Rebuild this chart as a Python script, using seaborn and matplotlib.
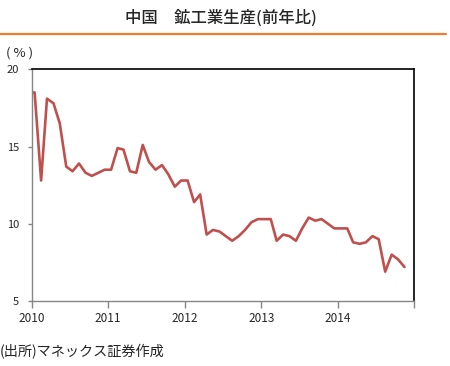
import numpy as np
import pandas as pd
import matplotlib
matplotlib.use("Agg")
import matplotlib.pyplot as plt
import matplotlib.dates as mdates
from matplotlib.lines import Line2D
import seaborn as sns

# monthly YoY (%), Dec 2009 .. Nov 2014
start_month = "2009-12-01"
ip_yoy = [18.5,
          18.5, 12.8, 18.1, 17.8, 16.5, 13.7, 13.4, 13.9, 13.3, 13.1, 13.3, 13.5,
          13.5, 14.9, 14.8, 13.4, 13.3, 15.1, 14.0, 13.5, 13.8, 13.2, 12.4, 12.8,
          12.8, 11.4, 11.9, 9.3, 9.6, 9.5, 9.2, 8.9, 9.2, 9.6, 10.1, 10.3,
          10.3, 10.3, 8.9, 9.3, 9.2, 8.9, 9.7, 10.4, 10.2, 10.3, 10.0, 9.7,
          9.7, 9.7, 8.8, 8.7, 8.8, 9.2, 9.0, 6.9, 8.0, 7.7, 7.2]
years = [2010, 2011, 2012, 2013, 2014, 2015]
year_labels = ["2010", "2011", "2012", "2013", "2014", ""]
y_ticks = [5, 10, 15, 20]

df = pd.DataFrame({
    "date": pd.date_range(start_month, periods=len(ip_yoy), freq="MS") + pd.Timedelta(days=14),
    "yoy": ip_yoy,
})

sns.set_style("white")
plt.rcParams['font.family'] = ['Noto Sans CJK JP', 'DejaVu Sans']

fig = plt.figure(figsize=(4.5, 3.66), dpi=100)
ax = fig.add_axes([0.0704, 0.1776, 0.8503, 0.6331])

sns.lineplot(data=df, x="date", y="yoy", ax=ax, color="#C0504D", linewidth=1.9)

ax.set_xlim(pd.Timestamp("2010-01-01"), pd.Timestamp("2015-01-01"))
ax.set_ylim(5, 20)
ax.set_xticks([pd.Timestamp(f"{y}-01-01") for y in years])
ax.set_xticklabels(year_labels)
ax.set_yticks(y_ticks)
ax.set_xlabel("")
ax.set_ylabel("")

for side in ["left", "bottom"]:
    ax.spines[side].set_color("#868686")
    ax.spines[side].set_linewidth(1.0)
for side in ["top", "right"]:
    ax.spines[side].set_color("black")
    ax.spines[side].set_linewidth(1.2)

ax.tick_params(axis="y", left=True, length=3, width=1, color="#868686",
               labelsize=8, pad=6)
ax.tick_params(axis="x", bottom=True, length=5, width=1, color="#868686",
               labelsize=8.5, pad=3)

fig.text(0.492, 0.951, "中国　鉱工業生産(前年比)", ha="center", va="center",
         fontsize=11.8, fontweight="medium")
fig.add_artist(Line2D([0, 0.992], [0.908, 0.908], color="#ED7D31",
                      linewidth=1.6, transform=fig.transFigure))
fig.text(0.013, 0.855, "( % )", ha="left", va="center", fontsize=9.5)
fig.text(0.0, 0.038, "(出所)マネックス証券作成", ha="left", va="center",
         fontsize=10.2)

fig.savefig("out.png", dpi=100)
